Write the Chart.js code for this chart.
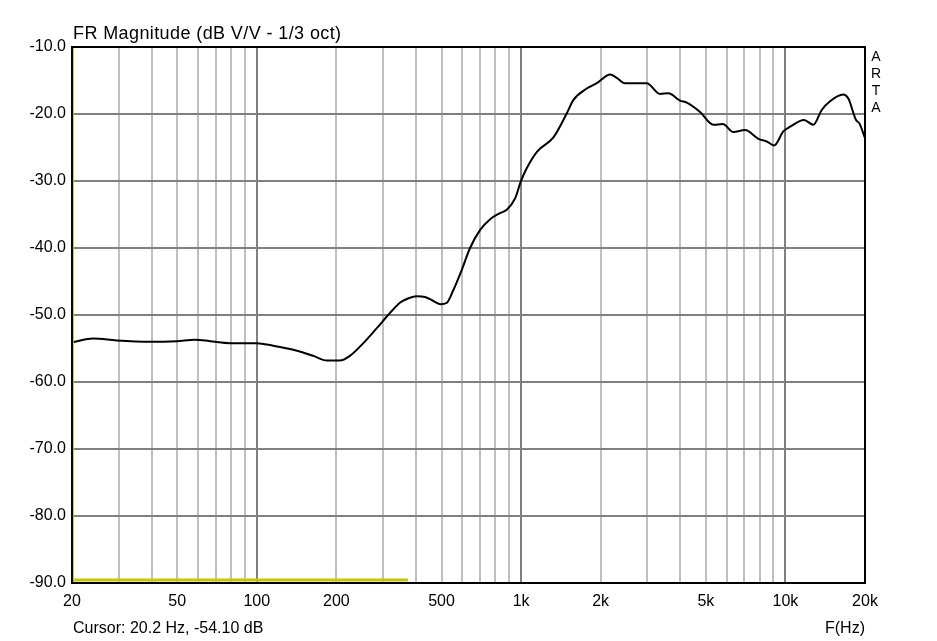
<!DOCTYPE html>
<html>
<head>
<meta charset="utf-8">
<script src="https://cdn.jsdelivr.net/npm/chart.js@4/dist/chart.umd.min.js"></script>
<style>
  html, body { margin: 0; padding: 0; background: #fff; }
  canvas { display: block; }
</style>
</head>
<body>
<canvas id="c" width="937" height="641"></canvas>
<script>
// ---- Data ----
const freqHz = [20, 24.1, 29.5, 39.5, 49.8, 58.4, 66.5, 79.3, 100, 115.5, 137.5, 163.7, 184, 206, 225, 253, 284, 319, 350, 375, 403, 433, 470, 495, 523, 554, 596, 641, 700, 764, 832, 883, 949, 997, 1050, 1150, 1325, 1489, 1578, 1772, 1933, 2172, 2300, 2474, 2987, 3357, 3608, 3993, 4235, 4755, 5339, 5795, 6360, 7035, 7900, 8500, 9060, 9820, 10420, 11760, 12750, 13720, 14750, 16570, 17300, 18500, 19050, 20000];
const magnitudeDb = [-54.1, -53.5, -53.8, -54.0, -53.9, -53.7, -53.9, -54.2, -54.2, -54.6, -55.2, -56.1, -56.8, -56.8, -56.1, -54.2, -52.0, -49.7, -48.1, -47.5, -47.2, -47.3, -48.0, -48.4, -48.2, -46.3, -43.3, -40.0, -37.3, -35.7, -34.8, -34.3, -32.6, -30.1, -28.1, -25.6, -23.5, -19.9, -17.9, -16.2, -15.4, -14.1, -14.6, -15.4, -15.4, -17.0, -16.9, -18.0, -18.3, -19.7, -21.6, -21.5, -22.7, -22.4, -23.7, -24.1, -24.7, -22.6, -21.9, -20.9, -21.6, -19.4, -18.1, -17.1, -17.7, -20.9, -21.4, -23.6];

const baseTraceHz = [20, 373];
const baseTraceDb = [-89.55, -89.55];
const cursorHz = [20.2, 20.2];
const cursorDb = [-10, -90];

const gridFreqs = [20, 30, 40, 50, 60, 70, 80, 90, 100, 200, 300, 400, 500, 600, 700, 800, 900, 1000, 2000, 3000, 4000, 5000, 6000, 7000, 8000, 9000, 10000, 20000];
const labeledFreqs = [20, 50, 100, 200, 500, 1000, 2000, 5000, 10000, 20000];
const freqLabels = ['20', '50', '100', '200', '500', '1k', '2k', '5k', '10k', '20k'];
const decadeFreqs = [100, 1000, 10000];

const titleText = 'FR Magnitude (dB V/V - 1/3 oct)';
const cursorText = 'Cursor: 20.2 Hz, -54.10 dB';
const xAxisTitle = 'F(Hz)';
const brandLetters = ['A', 'R', 'T', 'A'];

// ---- Chart ----
const FONT = '"Liberation Sans", Arial, sans-serif';
const toPts = (xs, ys) => xs.map((x, i) => ({ x: x, y: ys[i] }));

const overlay = {
  id: 'overlay',
  afterDraw(chart) {
    const ctx = chart.ctx;
    const a = chart.chartArea;
    ctx.save();
    // frame
    ctx.strokeStyle = '#000';
    ctx.lineWidth = 2;
    ctx.strokeRect(a.left, a.top, a.right - a.left, a.bottom - a.top);
    // texts
    ctx.fillStyle = '#000';
    ctx.textBaseline = 'alphabetic';
    ctx.textAlign = 'left';
    ctx.font = '18px ' + FONT;
    if ('letterSpacing' in ctx) ctx.letterSpacing = '0.4px';
    ctx.fillText(titleText, 73, 39);
    if ('letterSpacing' in ctx) ctx.letterSpacing = '0px';
    ctx.font = '16px ' + FONT;
    ctx.fillText(cursorText, 73, 633);
    ctx.textAlign = 'right';
    ctx.fillText(xAxisTitle, 865, 633);
    ctx.textAlign = 'center';
    ctx.font = '14px ' + FONT;
    brandLetters.forEach((ch, i) => ctx.fillText(ch, 876, 61 + i * 17));
    ctx.restore();
  }
};

new Chart(document.getElementById('c'), {
  type: 'line',
  data: {
    datasets: [
      {
        label: 'base',
        data: toPts(baseTraceHz, baseTraceDb),
        borderColor: '#c8c800',
        borderWidth: 3,
        pointRadius: 0,
        tension: 0
      },
      {
        label: 'cursor',
        data: toPts(cursorHz, cursorDb),
        borderColor: '#c8c800',
        borderWidth: 1.5,
        pointRadius: 0,
        tension: 0
      },
      {
        label: 'FR',
        data: toPts(freqHz, magnitudeDb),
        borderColor: '#000',
        borderWidth: 2,
        pointRadius: 0,
        cubicInterpolationMode: 'monotone'
      }
    ]
  },
  options: {
    responsive: false,
    animation: false,
    layout: { padding: { left: 0, right: 72, top: 47, bottom: 0 } },
    plugins: { legend: { display: false }, tooltip: { enabled: false }, title: { display: false } },
    scales: {
      x: {
        type: 'logarithmic',
        min: 20,
        max: 20000,
        afterBuildTicks: (s) => { s.ticks = gridFreqs.map(v => ({ value: v })); },
        afterFit: (s) => { s.height = 58; },
        ticks: {
          autoSkip: false,
          maxRotation: 0,
          padding: 9,
          color: '#000',
          font: { family: FONT, size: 16 },
          callback: (v) => {
            const i = labeledFreqs.indexOf(Math.round(v));
            return i >= 0 ? freqLabels[i] : '';
          }
        },
        grid: {
          drawTicks: false,
          lineWidth: 2,
          color: (ctx) => {
            const v = ctx.tick ? Math.round(ctx.tick.value) : 0;
            return decadeFreqs.includes(v) ? '#808080' : '#c0c0c0';
          }
        },
        border: { display: false }
      },
      y: {
        min: -90,
        max: -10,
        afterFit: (s) => { s.width = 72; },
        ticks: {
          stepSize: 10,
          padding: 6,
          color: '#000',
          font: { family: FONT, size: 16 },
          callback: (v) => Number(v).toFixed(1)
        },
        grid: { drawTicks: false, color: '#808080', lineWidth: 2 },
        border: { display: false }
      }
    }
  },
  plugins: [overlay]
});
</script>
</body>
</html>
